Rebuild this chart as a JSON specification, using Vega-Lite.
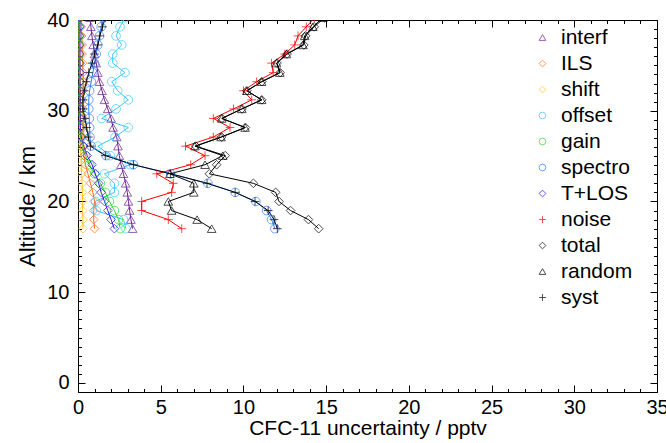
{
  "$schema": "https://vega.github.io/schema/vega-lite/v6.json",
  "autosize": "none",
  "width": 579,
  "height": 372,
  "padding": {"left": 78, "top": 20, "right": 9, "bottom": 51},
  "config": {
    "font": "Liberation Sans",
    "view": {"stroke": "black", "strokeWidth": 1},
    "axis": {"domainColor": "black", "tickColor": "black", "labelColor": "black", "titleColor": "black", "grid": false, "labelFont": "Liberation Sans", "titleFont": "Liberation Sans", "labelFontSize": 20, "titleFontSize": 21, "titleFontWeight": "normal", "labelOverlap": false, "labelFlush": false}
  },
  "data": {"values": [
    {"alt": 17, "interf": 3.3, "ILS": 1.0, "shift": 0.3, "offset": 2.9, "gain": 2.55, "spectro": 11.9, "T+LOS": 2.2, "noise": 6.27, "total": 14.55, "random": 8.08, "syst": 12.05},
    {"alt": 18, "interf": 3.2, "ILS": 0.95, "shift": 0.3, "offset": 2.75, "gain": 2.45, "spectro": 11.7, "T+LOS": 2.0, "noise": 5.46, "total": 13.93, "random": 7.2, "syst": 11.85},
    {"alt": 19, "interf": 3.12, "ILS": 0.95, "shift": 0.28, "offset": 1.1, "gain": 2.2, "spectro": 11.4, "T+LOS": 1.8, "noise": 3.85, "total": 12.85, "random": 5.66, "syst": 11.5},
    {"alt": 20, "interf": 3.05, "ILS": 1.0, "shift": 0.28, "offset": 1.05, "gain": 1.9, "spectro": 10.75, "T+LOS": 1.6, "noise": 3.85, "total": 12.15, "random": 5.46, "syst": 10.7},
    {"alt": 21, "interf": 2.98, "ILS": 0.9, "shift": 0.26, "offset": 2.2, "gain": 1.65, "spectro": 9.5, "T+LOS": 1.4, "noise": 5.66, "total": 11.95, "random": 7.0, "syst": 9.5},
    {"alt": 22, "interf": 2.88, "ILS": 0.75, "shift": 0.25, "offset": 2.2, "gain": 1.35, "spectro": 7.85, "T+LOS": 1.25, "noise": 5.76, "total": 10.6, "random": 7.0, "syst": 7.8},
    {"alt": 23.05, "interf": 2.75, "ILS": 0.6, "shift": 0.22, "offset": 1.6, "gain": 1.0, "spectro": 5.6, "T+LOS": 1.05, "noise": 4.76, "total": 7.94, "random": 5.56, "syst": 5.6},
    {"alt": 24.05, "interf": 2.6, "ILS": 0.45, "shift": 0.2, "offset": 3.15, "gain": 0.7, "spectro": 3.35, "T+LOS": 0.85, "noise": 6.81, "total": 8.38, "random": 7.68, "syst": 3.35},
    {"alt": 25.05, "interf": 2.5, "ILS": 0.35, "shift": 0.18, "offset": 1.95, "gain": 0.45, "spectro": 1.7, "T+LOS": 0.55, "noise": 7.68, "total": 8.9, "random": 8.75, "syst": 1.65},
    {"alt": 26.1, "interf": 2.42, "ILS": 0.3, "shift": 0.15, "offset": 1.2, "gain": 0.25, "spectro": 0.8, "T+LOS": 0.35, "noise": 6.5, "total": 7.12, "random": 7.07, "syst": 0.75},
    {"alt": 27.1, "interf": 2.34, "ILS": 0.3, "shift": 0.15, "offset": 2.24, "gain": 0.15, "spectro": 0.72, "T+LOS": 0.2, "noise": 8.18, "total": 8.68, "random": 8.65, "syst": 0.62},
    {"alt": 28.15, "interf": 2.12, "ILS": 0.3, "shift": 0.14, "offset": 3.04, "gain": 0.12, "spectro": 0.7, "T+LOS": 0.15, "noise": 9.19, "total": 10.12, "random": 10.1, "syst": 0.52},
    {"alt": 29.15, "interf": 2.0, "ILS": 0.32, "shift": 0.14, "offset": 1.43, "gain": 0.1, "spectro": 0.68, "T+LOS": 0.15, "noise": 8.18, "total": 8.7, "random": 8.69, "syst": 0.42},
    {"alt": 30.2, "interf": 1.8, "ILS": 0.3, "shift": 0.13, "offset": 2.3, "gain": 0.1, "spectro": 0.65, "T+LOS": 0.14, "noise": 9.4, "total": 9.91, "random": 9.9, "syst": 0.3},
    {"alt": 31.2, "interf": 1.6, "ILS": 0.28, "shift": 0.13, "offset": 3.04, "gain": 0.09, "spectro": 0.65, "T+LOS": 0.14, "noise": 10.5, "total": 11.11, "random": 11.1, "syst": 0.3},
    {"alt": 32.2, "interf": 1.45, "ILS": 0.3, "shift": 0.12, "offset": 2.4, "gain": 0.08, "spectro": 0.7, "T+LOS": 0.13, "noise": 10.0, "total": 10.21, "random": 10.2, "syst": 0.38},
    {"alt": 33.2, "interf": 1.3, "ILS": 0.32, "shift": 0.12, "offset": 2.04, "gain": 0.08, "spectro": 0.8, "T+LOS": 0.13, "noise": 10.8, "total": 11.11, "random": 11.1, "syst": 0.5},
    {"alt": 34.2, "interf": 1.2, "ILS": 0.3, "shift": 0.12, "offset": 2.84, "gain": 0.07, "spectro": 0.9, "T+LOS": 0.13, "noise": 11.8, "total": 12.22, "random": 12.2, "syst": 0.65},
    {"alt": 35.25, "interf": 1.1, "ILS": 0.28, "shift": 0.11, "offset": 2.1, "gain": 0.07, "spectro": 1.0, "T+LOS": 0.12, "noise": 11.7, "total": 12.03, "random": 12.0, "syst": 0.85},
    {"alt": 36.25, "interf": 1.0, "ILS": 0.25, "shift": 0.11, "offset": 2.1, "gain": 0.06, "spectro": 1.1, "T+LOS": 0.12, "noise": 12.5, "total": 12.64, "random": 12.6, "syst": 1.0},
    {"alt": 37.25, "interf": 0.92, "ILS": 0.25, "shift": 0.1, "offset": 2.64, "gain": 0.06, "spectro": 1.2, "T+LOS": 0.12, "noise": 13.1, "total": 13.65, "random": 13.6, "syst": 1.2},
    {"alt": 38.25, "interf": 0.84, "ILS": 0.22, "shift": 0.1, "offset": 2.3, "gain": 0.05, "spectro": 1.3, "T+LOS": 0.12, "noise": 13.3, "total": 13.76, "random": 13.7, "syst": 1.32},
    {"alt": 39.25, "interf": 0.78, "ILS": 0.2, "shift": 0.1, "offset": 2.54, "gain": 0.05, "spectro": 1.4, "T+LOS": 0.12, "noise": 13.8, "total": 14.28, "random": 14.2, "syst": 1.48},
    {"alt": 40.25, "interf": 0.72, "ILS": 0.2, "shift": 0.1, "offset": 2.84, "gain": 0.05, "spectro": 1.5, "T+LOS": 0.12, "noise": 14.3, "total": 14.9, "random": 14.8, "syst": 1.65}
  ]},
  "transform": [
    {"fold": ["interf", "ILS", "shift", "offset", "gain", "spectro", "T+LOS", "noise", "total", "random", "syst"], "as": ["series", "v"]}
  ],
  "resolve": {"axis": {"x": "independent", "y": "independent"}},
  "layer": [
    {
      "mark": {"type": "line", "strokeWidth": 1, "clip": true},
      "encoding": {
        "x": {"field": "v", "type": "quantitative", "scale": {"domain": [0, 35], "nice": false, "zero": false},
          "axis": {"orient": "bottom", "title": "CFC-11 uncertainty / pptv", "values": [0, 5, 10, 15, 20, 25, 30, 35], "tickSize": -7, "labelPadding": 12, "titlePadding": 0}},
        "y": {"field": "alt", "type": "quantitative", "scale": {"domain": [-1, 40], "nice": false, "zero": false},
          "axis": {"orient": "left", "title": "Altitude / km", "titleFontSize": 22, "values": [0, 10, 20, 30, 40], "tickSize": -7, "labelPadding": 16, "titlePadding": 7}},
        "stroke": {"field": "series", "type": "nominal", "legend": null,
          "scale": {"domain": ["syst", "random", "total", "noise", "T+LOS", "spectro", "gain", "offset", "shift", "ILS", "interf"],
            "range": ["#000000", "#000000", "#000000", "#ff0000", "#2a10f0", "#2a7fff", "#22dd22", "#33ccff", "#ffc21a", "#ff6a1a", "#6b1d93"]}},
        "order": {"field": "alt", "type": "quantitative"}
      }
    },
    {
      "mark": {"type": "point", "filled": false, "strokeWidth": 1, "size": 75, "clip": true},
      "encoding": {
        "x": {"field": "v", "type": "quantitative",
          "axis": {"orient": "top", "title": null, "labels": false, "values": [0, 5, 10, 15, 20, 25, 30, 35], "tickSize": -7}},
        "y": {"field": "alt", "type": "quantitative",
          "axis": {"orient": "right", "title": null, "labels": false, "values": [0, 10, 20, 30, 40], "tickSize": -7}},
        "color": {"field": "series", "type": "nominal",
          "scale": {"domain": ["interf", "ILS", "shift", "offset", "gain", "spectro", "T+LOS", "noise", "total", "random", "syst"],
            "range": ["#6b1d93", "#ff6a1a", "#ffc21a", "#33ccff", "#22dd22", "#2a7fff", "#2a10f0", "#ff0000", "#000000", "#000000", "#000000"]},
          "legend": {"title": null, "orient": "none", "legendX": 454, "legendY": 7, "labelFontSize": 21, "labelFont": "Liberation Sans", "symbolSize": 45, "symbolStrokeWidth": 1, "labelOffset": 8, "rowPadding": 4, "padding": 0,
            "encode": {"labels": {"fill": {"value": {"expr": "scale('color', datum.value)"}}}}}},
        "shape": {"field": "series", "type": "nominal",
          "scale": {"domain": ["interf", "ILS", "shift", "offset", "gain", "spectro", "T+LOS", "noise", "total", "random", "syst"],
            "range": ["triangle-up", "diamond", "diamond", "circle", "circle", "circle", "diamond", "M-1,0L1,0M0,-1L0,1", "diamond", "triangle-up", "M-1,0L1,0M0,-1L0,1"]},
          "legend": {"title": null, "orient": "none", "legendX": 454, "legendY": 7, "labelFontSize": 21, "labelFont": "Liberation Sans", "symbolSize": 45, "symbolStrokeWidth": 1, "labelOffset": 8, "rowPadding": 4, "padding": 0,
            "encode": {"labels": {"fill": {"value": {"expr": "scale('color', datum.value)"}}}}}}
      }
    },
    {
      "mark": {"type": "point", "opacity": 0, "clip": true},
      "encoding": {
        "x": {"field": "v", "type": "quantitative",
          "axis": {"orient": "bottom", "title": null, "labels": false, "domain": false, "tickSize": -3.5, "values": [1,2,3,4,6,7,8,9,11,12,13,14,16,17,18,19,21,22,23,24,26,27,28,29,31,32,33,34]}},
        "y": {"field": "alt", "type": "quantitative",
          "axis": {"orient": "left", "title": null, "labels": false, "domain": false, "tickSize": -3.5, "values": [-1,1,2,3,4,5,6,7,8,9,11,12,13,14,15,16,17,18,19,21,22,23,24,25,26,27,28,29,31,32,33,34,35,36,37,38,39]}}
      }
    },
    {
      "mark": {"type": "point", "opacity": 0, "clip": true},
      "encoding": {
        "x": {"field": "v", "type": "quantitative",
          "axis": {"orient": "top", "title": null, "labels": false, "domain": false, "tickSize": -3.5, "values": [1,2,3,4,6,7,8,9,11,12,13,14,16,17,18,19,21,22,23,24,26,27,28,29,31,32,33,34]}},
        "y": {"field": "alt", "type": "quantitative",
          "axis": {"orient": "right", "title": null, "labels": false, "domain": false, "tickSize": -3.5, "values": [-1,1,2,3,4,5,6,7,8,9,11,12,13,14,15,16,17,18,19,21,22,23,24,25,26,27,28,29,31,32,33,34,35,36,37,38,39]}}
      }
    }
  ]
}
